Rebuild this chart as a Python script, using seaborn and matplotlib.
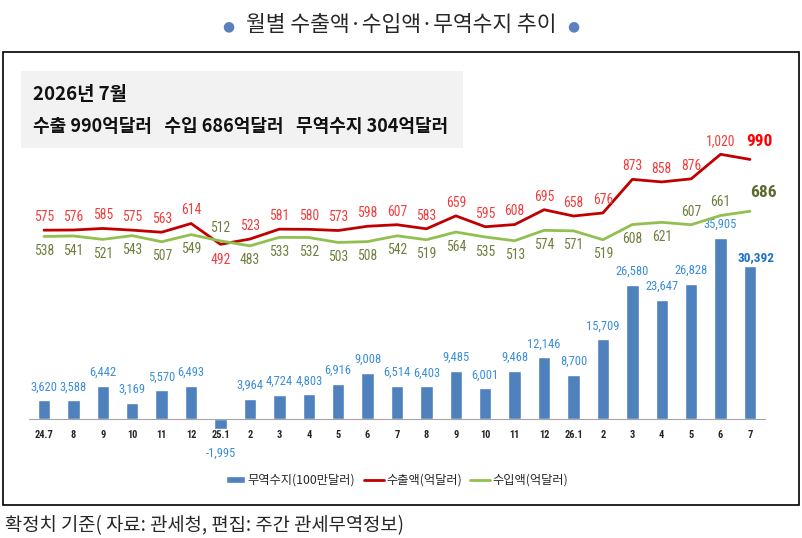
import numpy as np
import pandas as pd
import seaborn as sns
import matplotlib.pyplot as plt
from matplotlib.patches import Rectangle, Patch
from matplotlib.lines import Line2D

months = ['24.7', '8', '9', '10', '11', '12', '25.1', '2', '3', '4', '5', '6', '7',
          '8', '9', '10', '11', '12', '26.1', '2', '3', '4', '5', '6', '7']
export = [575, 576, 585, 575, 563, 614, 492, 523, 581, 580, 573, 598, 607,
          583, 659, 595, 608, 695, 658, 676, 873, 858, 876, 1020, 990]
imports = [538, 541, 521, 543, 507, 549, 512, 483, 533, 532, 503, 508, 542,
           519, 564, 535, 513, 574, 571, 519, 608, 621, 607, 661, 686]
balance = [3620, 3588, 6442, 3169, 5570, 6493, -1995, 3964, 4724, 4803, 6916, 9008, 6514,
           6403, 9485, 6001, 9468, 12146, 8700, 15709, 26580, 23647, 26828, 35905, 30392]

df = pd.DataFrame({'idx': range(len(months)), 'export': export,
                   'import': imports, 'balance': balance})

sns.set_style('white')
KR = ['Noto Sans CJK KR', 'DejaVu Sans']
NUM = ['Roboto Condensed', 'Liberation Sans Narrow', 'Liberation Sans', 'DejaVu Sans']
plt.rcParams['font.family'] = KR

W, H = 803, 538
fig = plt.figure(figsize=(W / 100, H / 100), dpi=100)


def fx(px):
    return px / W


def fy(py):
    return 1 - py / H


# frame + info box
fig.patches.append(Rectangle((fx(3), fy(505)), fx(799) - fx(3), fy(52) - fy(505),
                             transform=fig.transFigure, fill=False, ec='black', lw=1.2))
fig.patches.append(Rectangle((fx(21.5), fy(148)), fx(463) - fx(21.5), fy(71) - fy(148),
                             transform=fig.transFigure, fc='#F2F2F2', ec='none'))
fig.text(fx(33), fy(95), '2026년 7월', fontsize=13.5, fontweight='bold', va='center', color='#111111')
fig.text(fx(33), fy(127), '수출 990억달러   수입 686억달러   무역수지 304억달러',
         fontsize=13, fontweight='bold', va='center', color='#111111')

# title / footnote
fig.text(fx(401), fy(25), '월별 수출액·수입액·무역수지 추이', fontsize=15.5, ha='center', va='center')
for bx in (228, 573):
    fig.text(fx(bx), fy(26), '●', fontsize=10, ha='center', va='center',
             color='#5B80C0', family='DejaVu Sans')
fig.text(fx(5), fy(526), '확정치 기준( 자료: 관세청, 편집: 주간 관세무역정보)',
         fontsize=13.5, ha='left', va='center')

# chart
ax = fig.add_axes([fx(29.3), fy(440), fx(764.7) - fx(29.3), 300 / H])
sns.barplot(data=df, x='idx', y='balance', ax=ax, color='#4F81BD', width=0.42, saturation=1)
ax2 = ax.twinx()
sns.lineplot(data=df, x='idx', y='export', ax=ax2, color='#C00000', lw=2)
sns.lineplot(data=df, x='idx', y='import', ax=ax2, color='#92C050', lw=2)

ax.set_xlim(-0.5, 24.5)
ax.set_ylim(-4274, 55368)
ax2.set_ylim(-655.7, 1103.9)
ax2.axis('off')

for s in ('left', 'right', 'top'):
    ax.spines[s].set_visible(False)
ax.spines['bottom'].set_position(('data', 0))
ax.spines['bottom'].set_color('#A6A6A6')
ax.set_yticks([])
ax.set_xticks(range(len(months)), months, fontsize=7.5, fontweight='bold', family=NUM)
ax.set_xticks(np.arange(-0.5, len(months), 1), minor=True)
ax.tick_params(axis='x', which='major', length=0, pad=8)
ax.tick_params(axis='x', which='minor', length=3, color='#A6A6A6', direction='out')
ax.set_xlabel('')
ax.set_ylabel('')

LBL = 9.8
BAR_LBL = 9
last = len(months) - 1
for i, v in enumerate(balance):
    txt = f'{v:,}'
    if i == last:
        ax.annotate(txt, (i, v), xytext=(4, 6), textcoords='offset points', ha='center',
                    va='center', fontsize=BAR_LBL + 0.5, fontweight='bold', color='#1F6FC4', family=NUM)
    elif v < 0:
        ax.annotate(txt, (i, v), xytext=(0, -17.5), textcoords='offset points', ha='center',
                    va='center', fontsize=BAR_LBL, color='#3A8DDA', family=NUM)
    else:
        ax.annotate(txt, (i, v), xytext=(0, 5), textcoords='offset points', ha='center',
                    va='bottom', fontsize=BAR_LBL, color='#3A8DDA', family=NUM)

below_exp = [6]
for i, v in enumerate(export):
    if i == last:
        ax2.annotate(f'{v:,}', (i, v), xytext=(6.5, 13), textcoords='offset points', ha='center',
                     va='center', fontsize=12.5, fontweight='bold', color='#FF0000', family=NUM)
    else:
        dy = -11 if i in below_exp else 9.5
        ax2.annotate(f'{v:,}', (i, v), xytext=(0, dy), textcoords='offset points', ha='center',
                     va='center', fontsize=LBL, color='#F23C3C', family=NUM)

above_imp = [6, 22, 23]
for i, v in enumerate(imports):
    if i == last:
        ax2.annotate(f'{v:,}', (i, v), xytext=(9.4, 13.7), textcoords='offset points', ha='center',
                     va='center', fontsize=12.5, fontweight='bold', color='#5B6B30', family=NUM)
    else:
        dy = 9.5 if i in above_imp else -10.5
        ax2.annotate(f'{v:,}', (i, v), xytext=(0, dy), textcoords='offset points', ha='center',
                     va='center', fontsize=LBL, color='#6E7F3C', family=NUM)

handles = [Patch(fc='#4F81BD'),
           Line2D([], [], color='#C00000', lw=2),
           Line2D([], [], color='#92C050', lw=2)]
fig.legend(handles, ['무역수지(100만달러)', '수출액(억달러)', '수입액(억달러)'],
           loc='center', bbox_to_anchor=(fx(397), fy(480)), ncol=3, frameon=False,
           fontsize=8.8, handlelength=1.6, handleheight=0.5, handletextpad=0.2,
           columnspacing=0.7)

fig.savefig('out.png', dpi=100)
